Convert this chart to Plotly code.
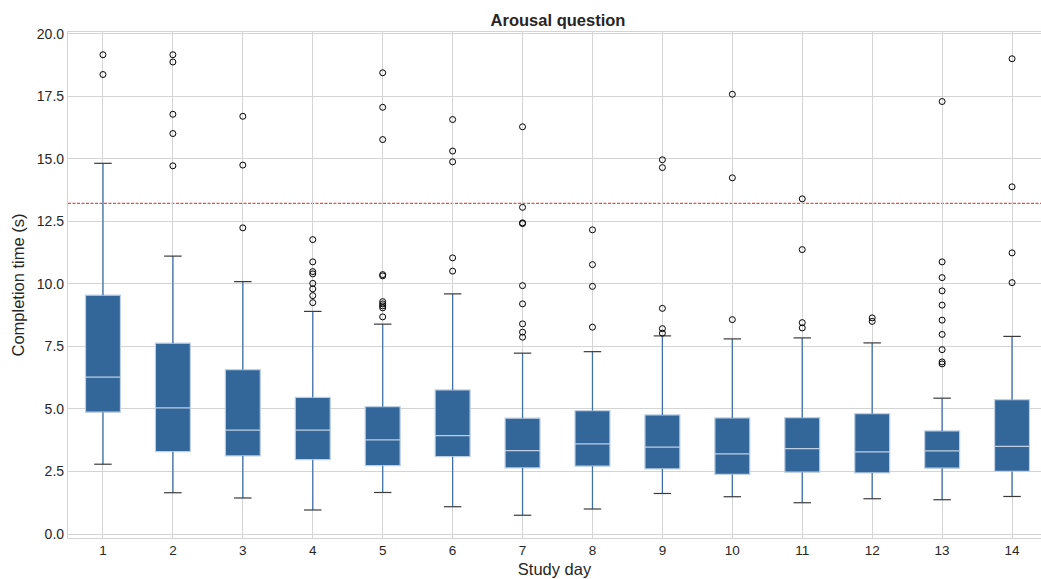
import plotly.graph_objects as go

# Completion time (s) of the arousal question, per study day
days = list(range(1, 15))
q1 = [4.87, 3.29, 3.12, 2.97, 2.73, 3.09, 2.64, 2.71, 2.60, 2.38, 2.47, 2.44, 2.63, 2.50]
median = [6.27, 5.04, 4.15, 4.15, 3.76, 3.93, 3.33, 3.60, 3.47, 3.20, 3.41, 3.28, 3.32, 3.50]
q3 = [9.55, 7.63, 6.57, 5.46, 5.09, 5.76, 4.63, 4.93, 4.76, 4.64, 4.65, 4.81, 4.12, 5.37]
lower_whisker = [2.79, 1.65, 1.44, 0.96, 1.66, 1.09, 0.75, 1.00, 1.62, 1.49, 1.25, 1.41, 1.37, 1.50]
upper_whisker = [14.82, 11.11, 10.09, 8.90, 8.39, 9.60, 7.23, 7.29, 7.92, 7.80, 7.84, 7.64, 5.43, 7.90]
outliers = [
    [19.16, 18.37],
    [19.16, 18.87, 16.78, 16.01, 14.72],
    [16.70, 14.75, 12.24],
    [11.77, 10.88, 10.49, 10.40, 10.02, 9.80, 9.53, 9.25],
    [18.44, 17.06, 15.77, 10.37, 10.32, 9.29, 9.20, 9.12, 9.04, 8.68],
    [16.57, 15.31, 14.88, 11.04, 10.51],
    [16.28, 13.06, 12.44, 12.41, 9.93, 9.20, 8.40, 8.07, 7.87],
    [12.16, 10.77, 9.90, 8.27],
    [14.96, 14.65, 9.02, 8.21, 8.03],
    [17.58, 14.24, 8.57],
    [13.40, 11.37, 8.45, 8.24],
    [8.64, 8.50],
    [17.29, 10.88, 10.25, 9.72, 9.15, 8.55, 7.98, 7.37, 6.88, 6.80],
    [19.00, 13.88, 11.24, 10.05],
]
threshold = 13.22

y_ticks = [0, 2.5, 5, 7.5, 10, 12.5, 15, 17.5, 20]

BOX_FILL = "#33679a"
BOX_EDGE = "#bfd0e4"
WHISKER = "#3f6fa3"
CAP = "#3a3a3a"
GRID = "#d4d4d4"
TEXT = "#262626"
FONT = "Liberation Sans, Arial, sans-serif"
BOX_WIDTH = 0.5
CAP_HALF = BOX_WIDTH / 4

fig = go.Figure()

fig.add_trace(go.Box(
    x=days, q1=q1, median=median, q3=q3,
    lowerfence=lower_whisker, upperfence=upper_whisker,
    width=BOX_WIDTH, whiskerwidth=0,
    fillcolor=BOX_FILL, line=dict(color=BOX_EDGE, width=1.2),
    boxpoints=False, showlegend=False, hoverinfo="skip",
))

# whiskers
wx, wy = [], []
for d, a, b, lo, hi in zip(days, q1, q3, lower_whisker, upper_whisker):
    wx += [d, d, None, d, d, None]
    wy += [b, hi, None, a, lo, None]
fig.add_trace(go.Scatter(x=wx, y=wy, mode="lines", line=dict(color=WHISKER, width=1.2),
                         showlegend=False, hoverinfo="skip"))

# caps
cx, cy = [], []
for d, lo, hi in zip(days, lower_whisker, upper_whisker):
    cx += [d - CAP_HALF, d + CAP_HALF, None, d - CAP_HALF, d + CAP_HALF, None]
    cy += [hi, hi, None, lo, lo, None]
fig.add_trace(go.Scatter(x=cx, y=cy, mode="lines", line=dict(color=CAP, width=1.2),
                         showlegend=False, hoverinfo="skip"))

# fliers
fx, fy = [], []
for d, vals in zip(days, outliers):
    fx += [d] * len(vals)
    fy += vals
fig.add_trace(go.Scatter(x=fx, y=fy, mode="markers",
                         marker=dict(symbol="circle-open", size=6, color="black",
                                     line=dict(width=1, color="black")),
                         showlegend=False, hoverinfo="skip"))

# reference threshold, drawn beneath the boxes
fig.add_shape(type="line", xref="paper", x0=0, x1=1, yref="y", y0=threshold, y1=threshold,
              layer="below",
              line=dict(color="rgb(255,70,70)", width=1.3, dash="3px,1.5px"))

fig.update_layout(
    width=1041, height=579,
    margin=dict(l=68, r=0, t=32, b=41),
    paper_bgcolor="white", plot_bgcolor="white",
    font=dict(family=FONT, color=TEXT, size=14),
    title=dict(text="<b>Arousal question</b>", x=0.5036, xref="paper", xanchor="center",
               y=1 - 20.5 / 579, yref="container", yanchor="middle",
               font=dict(size=16.5, color=TEXT, family=FONT)),
    xaxis=dict(
        range=[0.5, 14.414], tickmode="array", tickvals=days, ticktext=[str(d) for d in days],
        showgrid=True, gridcolor=GRID, gridwidth=1, zeroline=False,
        showline=True, linecolor=GRID, linewidth=1.25, mirror=True,
        ticks="", tickfont=dict(size=13.5),
        title=dict(text="Study day", font=dict(size=16.5), standoff=6),
    ),
    yaxis=dict(
        range=[-0.16, 20.07], tickmode="array", tickvals=y_ticks,
        ticktext=[f"{v:.1f}" for v in y_ticks],
        showgrid=True, gridcolor=GRID, gridwidth=1, zeroline=False,
        showline=True, linecolor=GRID, linewidth=1.25,
        ticks="", tickfont=dict(size=14),
        title=dict(text="Completion time (s)", font=dict(size=16.5), standoff=8),
    ),
)

fig.write_html("out.html")
